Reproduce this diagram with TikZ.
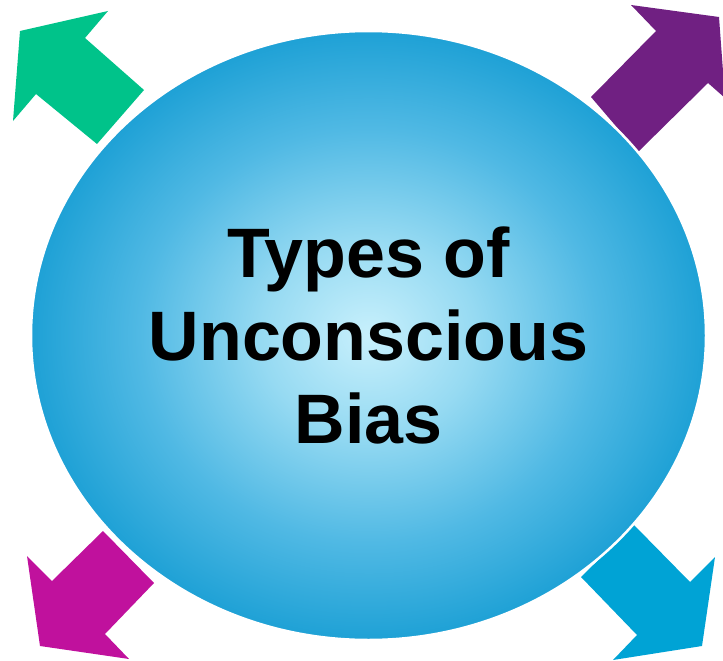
\documentclass[tikz,border=0pt]{standalone}
\usepackage{fontspec}
\setmainfont{Liberation Sans}
\usetikzlibrary{shapes.geometric}
\definecolor{arrowgreen}{RGB}{0,195,138}
\definecolor{arrowpurple}{RGB}{112,32,130}
\definecolor{arrowmagenta}{RGB}{192,17,157}
\definecolor{arrowblue}{RGB}{0,163,213}
\definecolor{ballcore}{RGB}{200,240,252}
\definecolor{ballmid}{RGB}{150,218,242}
\definecolor{ballouter}{RGB}{80,185,228}
\definecolor{ballrim}{RGB}{18,155,210}
\pgfdeclareradialshading{ball}{\pgfpoint{0bp}{0bp}}{%
  color(0bp)=(ballcore); color(8bp)=(ballmid); color(17bp)=(ballouter);
  color(27bp)=(ballrim); color(50bp)=(ballrim)}
\begin{document}
\begin{tikzpicture}[x=1pt,y=-1pt,
  bigarrow/.style={fill=#1,draw=none},
  ballnode/.style={ellipse,minimum width=675pt,minimum height=609pt,inner sep=0pt,
    shading=ball,draw=white,line width=2.5pt,align=center,
    font=\fontsize{70}{83}\selectfont\bfseries}]
\useasboundingbox (0,0) rectangle (723,661);
% four block arrows pointing outwards
\fill[bigarrow=arrowgreen] (20,31) -- (108,11) -- (85,38) -- (144,90) -- (97,144) -- (36,94) -- (13,121) -- cycle;
\fill[bigarrow=arrowpurple] (631,5) -- (719,17) -- (725,98) -- (708,83) -- (638,152) -- (591,97) -- (656,31) -- cycle;
\fill[bigarrow=arrowmagenta] (103,531) -- (154,583) -- (105,634) -- (129,659) -- (40,646) -- (27,556) -- (52,581) -- cycle;
\fill[bigarrow=arrowblue] (634,525) -- (690,582) -- (715,557) -- (702,646) -- (613,660) -- (637,635) -- (581,577) -- cycle;
% central ball with title
\node[ballnode] (ball) at (368.5,335.5) {Types of\\Unconscious\\Bias};
\end{tikzpicture}
\end{document}
